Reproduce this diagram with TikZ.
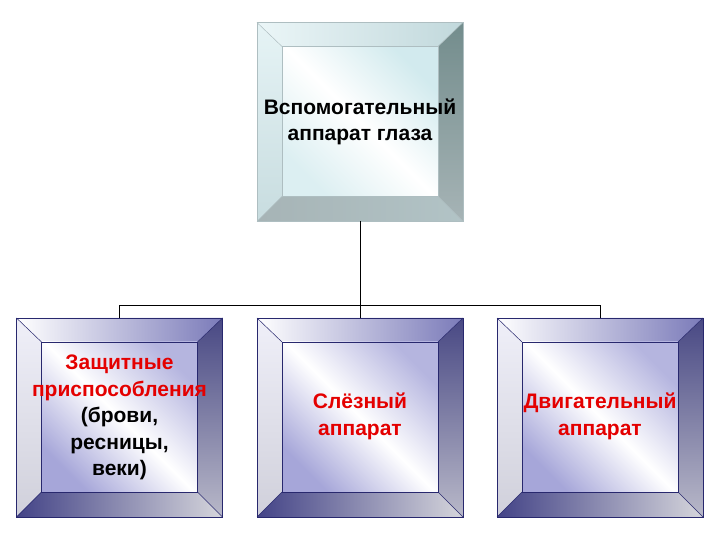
\documentclass[tikz,border=0pt]{standalone}
\usepackage{fontspec}
\setmainfont{Liberation Sans}
\usetikzlibrary{calc}
\definecolor{txtred}{RGB}{228,0,0}
\definecolor{navy}{RGB}{40,40,110}
\definecolor{lav}{RGB}{150,150,210}
\definecolor{cyanl}{RGB}{205,232,236}
\tikzset{
  x=1pt,y=1pt,
  outerbox/.style={minimum width=206pt,minimum height=199pt,inner sep=0pt,outer sep=0pt},
  lbl/.style={align=center,font=\bfseries\fontsize{21}{26.5}\selectfont,inner sep=0pt},
  conn/.style={draw=black,line width=0.8pt},
  edgeline/.style={line width=0.5pt},
}
% #1 name, #2 x, #3 y, #4 border col, #5 top bevel style, #6 left bevel style, #7 right bevel style, #8 bottom bevel style, #9 inner style
\newcommand\bevelbox[9]{%
  \node[outerbox] (#1) at (#2,#3) {};
  \coordinate (#1-a) at ($(#1.north west)+(25,-24)$);
  \coordinate (#1-b) at ($(#1.north east)+(-25,-24)$);
  \coordinate (#1-c) at ($(#1.south east)+(-25,25)$);
  \coordinate (#1-d) at ($(#1.south west)+(25,25)$);
  \path[#5] (#1.north west) -- (#1.north east) -- (#1-b) -- (#1-a) -- cycle;
  \path[#6] (#1.north west) -- (#1-a) -- (#1-d) -- (#1.south west) -- cycle;
  \path[#7] (#1.north east) -- (#1.south east) -- (#1-c) -- (#1-b) -- cycle;
  \path[#8] (#1.south west) -- (#1-d) -- (#1-c) -- (#1.south east) -- cycle;
  \path[#9] (#1-a) rectangle (#1-c);
  \draw[edgeline,#4] (#1.north west) -- (#1-a) (#1.north east) -- (#1-b)
     (#1.south east) -- (#1-c) (#1.south west) -- (#1-d);
  \draw[edgeline,#4] (#1-a) rectangle (#1-c);
  \draw[edgeline,#4] (#1.north west) rectangle (#1.south east);
}
\tikzset{
  btop/.style={left color=white,right color=lav!75!navy},
  bleft/.style={top color=lav!15!white,bottom color=lav!45!gray!40!white},
  bright/.style={top color=navy!85,bottom color=gray!55!lav!60!white},
  bbot/.style={left color=navy!75!lav,right color=lav!30!gray!35!white},
  binner/.style={shading=axis,top color=lav!70!white,bottom color=lav!85!white,middle color=white,shading angle=-45},
  ttop/.style={left color=cyanl!40!white,right color=cyanl!85!gray},
  tleft/.style={top color=cyanl!50!white,bottom color=cyanl!85!gray!90},
  tright/.style={top color=gray!90!cyan,bottom color=gray!50!cyanl},
  tbot/.style={left color=gray!50!cyanl,right color=gray!35!cyanl},
  tinner/.style={shading=axis,top color=cyanl!90!white,bottom color=cyanl!70!white,middle color=white,shading angle=-45},
}
\begin{document}
\begin{tikzpicture}
\useasboundingbox (0,0) rectangle (720,540);
\fill[white] (0,0) rectangle (720,540);

\bevelbox{top}{360}{418}{draw=cyanl!60!gray}{ttop}{tleft}{tright}{tbot}{tinner}
\bevelbox{left}{119.5}{122.5}{draw=navy}{btop}{bleft}{bright}{bbot}{binner}
\bevelbox{mid}{360}{122.5}{draw=navy}{btop}{bleft}{bright}{bbot}{binner}
\bevelbox{right}{600}{122.5}{draw=navy}{btop}{bleft}{bright}{bbot}{binner}

\coordinate (jl) at ($(left.north)+(0,13)$);
\coordinate (jr) at ($(right.north)+(0,13)$);
\draw[conn] (top.south) -- (mid.north);
\draw[conn] (left.north) -- (jl) -- (jr) -- (right.north);

\node[lbl] (ttxt) at (top.center) {Вспомогательный\\аппарат глаза};
\node[lbl] (ltxt) at ($(left.center)+(0,0)$) {\textcolor{txtred}{Защитные}\\\textcolor{txtred}{приспособления}\\(брови,\\ресницы,\\веки)};
\node[lbl,text=txtred] (mtxt) at ($(mid.center)+(0,1)$) {Слёзный\\аппарат};
\node[lbl,text=txtred] (rtxt) at ($(right.center)+(0,1)$) {Двигательный\\аппарат};
\end{tikzpicture}
\end{document}
